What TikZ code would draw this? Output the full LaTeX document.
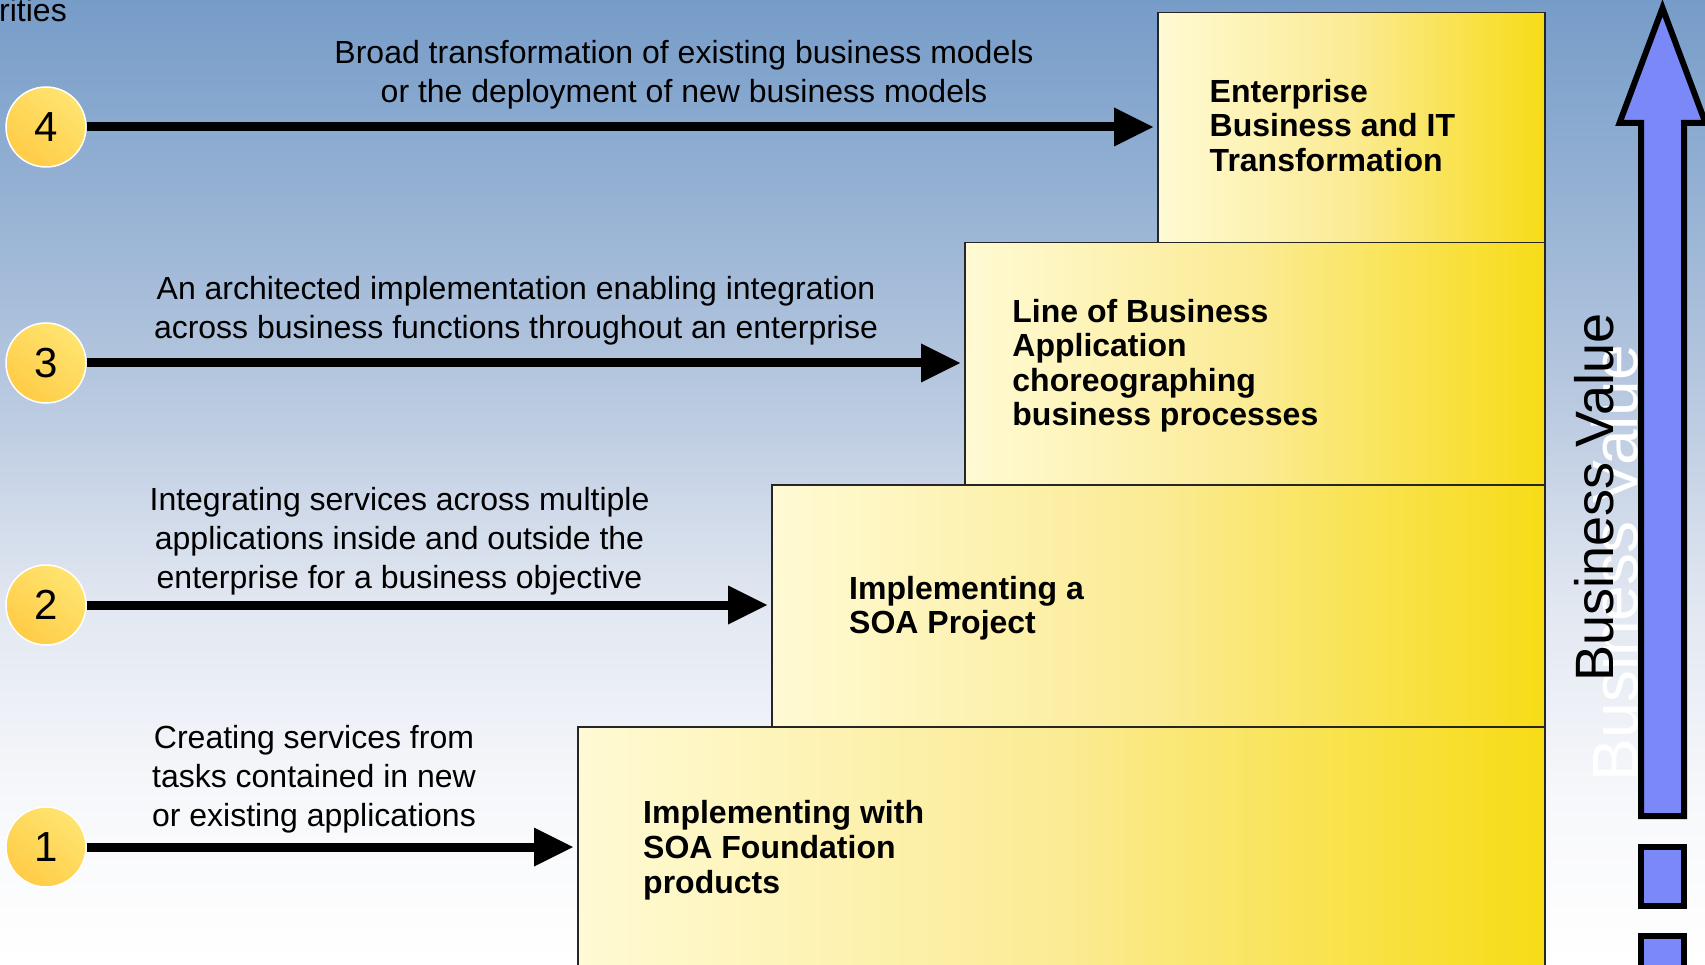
\documentclass[tikz,border=0pt]{standalone}
\usepackage{fontspec}
\setmainfont{Liberation Sans}
\usetikzlibrary{arrows.meta}
\definecolor{bgA}{RGB}{118,156,200}
\definecolor{bgB}{RGB}{150,178,212}
\definecolor{bgC}{RGB}{185,201,224}
\definecolor{bgD}{RGB}{225,231,241}
\definecolor{bgE}{RGB}{247,248,251}
\definecolor{bgF}{RGB}{255,255,255}
\definecolor{boxL}{RGB}{255,250,212}
\definecolor{boxM}{RGB}{251,235,148}
\definecolor{boxR}{RGB}{247,220,22}
\definecolor{circLight}{RGB}{255,228,112}
\definecolor{circDark}{RGB}{255,204,70}
\definecolor{arrowblue}{RGB}{122,136,248}
\pgfdeclareverticalshading{bgshade}{100bp}{color(0bp)=(bgF); color(25bp)=(bgF); color(33.55bp)=(bgE); color(43.91bp)=(bgD); color(54.27bp)=(bgC); color(64.64bp)=(bgB); color(75bp)=(bgA); color(100bp)=(bgA)}
\begin{document}
\begin{tikzpicture}[x=1pt,y=-1pt,
  numcirc/.style={circle, minimum size=80pt, inner sep=0pt, draw=white, line width=1.5pt,
    top color=circLight, bottom color=circDark, shading angle=-40,
    font=\fontsize{42}{42}\selectfont},
  conn/.style={line width=9pt, -{Triangle[length=39pt,width=39pt,line width=0pt]}, shorten >=4pt},
  stepbox/.style={draw=black!85, line width=1.5pt, inner sep=0pt, anchor=north west,
    left color=boxL, right color=boxR, middle color=boxM},
  lbl/.style={align=center, anchor=north, inner sep=0pt, font=\fontsize{32}{39}\selectfont},
  boxtxt/.style={align=left, anchor=north west, inner sep=0pt, font=\bfseries\fontsize{32}{34.6}\selectfont},
  valarrow/.style={draw=black, line width=6pt, fill=arrowblue, line join=miter}
]
\useasboundingbox (0,0) rectangle (1705,965);
\shade[shading=bgshade] (0,0) rectangle (1705,965);

% steps
\node[stepbox, minimum width=967pt, minimum height=242pt] (b1) at (577,726) {};
\node[stepbox, minimum width=773pt, minimum height=242pt] (b2) at (771,484) {};
\node[stepbox, minimum width=580pt, minimum height=242pt] (b3) at (964,242) {};
\node[stepbox, minimum width=387pt, minimum height=230pt] (b4) at (1157,12) {};

% step texts
\node[boxtxt] (s4) at (1209.5,78.7) {Enterprise\\Business and IT\\Transformation};
\node[boxtxt] (s3) at (1012.2,298.7) {Line of Business\\Application\\choreographing\\business processes};
\node[boxtxt] (s2) at (849,576) {Implementing a\\SOA Project};
\node[boxtxt] (s1) at (643,800.5) {Implementing with\\SOA Foundation\\products};

% top-left cut text
\node[anchor=base west, inner sep=0pt, font=\fontsize{32}{32}\selectfont] (cut) at (-1,22) {rities};

% labels
\node[lbl] (t4) at (684,40) {Broad transformation of existing business models\\or the deployment of new business models};
\node[lbl] (t3) at (516,276) {An architected implementation enabling integration\\across business functions throughout an enterprise};
\node[lbl] (t2) at (399.5,487) {Integrating services across multiple\\applications inside and outside the\\enterprise for a business objective};
\node[lbl] (t1) at (314,725) {Creating services from\\tasks contained in new\\or existing applications};

% circles
\node[numcirc] (c4) at (46,127) {4};
\node[numcirc] (c3) at (46,363) {3};
\node[numcirc] (c2) at (46,605) {2};
\node[numcirc] (c1) at (46,847) {1};

% connectors
\draw[conn] (c4.east) -- (c4.east -| b4.west);
\draw[conn] (c3.east) -- (c3.east -| b3.west);
\draw[conn] (c2.east) -- (c2.east -| b2.west);
\draw[conn] (c1.east) -- (c1.east -| b1.west);

% business value
\node[rotate=90, anchor=base, text=white, inner sep=0pt, font=\fontsize{64}{64}\selectfont] (bvw) at (1637,563) {Business Value};
\draw[valarrow] (1662.5,8) -- (1705.5,123) -- (1684,123) -- (1684,816) -- (1641,816) -- (1641,123) -- (1619.5,123) -- cycle;
\draw[valarrow] (1641,847) rectangle (1684,906);
\draw[valarrow] (1641,936) rectangle (1684,1000);
\node[rotate=90, anchor=base, inner sep=0pt, font=\fontsize{54}{54}\selectfont] (bv) at (1613,497.5) {Business Value};
\end{tikzpicture}
\end{document}
